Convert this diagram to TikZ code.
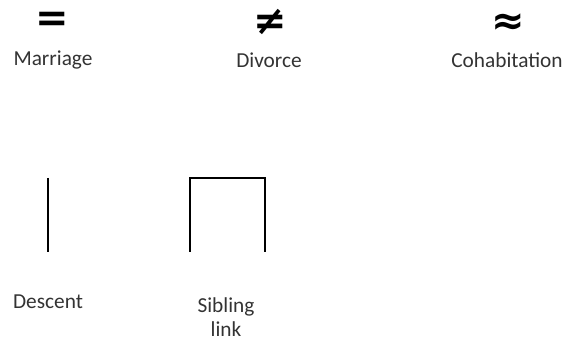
\documentclass[tikz,border=0pt]{standalone}
\usepackage{fontspec}
\setmainfont{Carlito}
\newfontfamily\symfont{DejaVu Sans}
\usepackage{tikz}
\usetikzlibrary{positioning}
\definecolor{inkgray}{HTML}{333333}

\begin{document}
\begin{tikzpicture}[x=0.75pt, y=-0.75pt,
    label/.style={font=\fontsize{16}{18}\selectfont, text=inkgray, inner sep=0pt, align=center},
    relsym/.style={font=\symfont\bfseries\fontsize{30}{30}\selectfont, inner sep=0pt},
    kinline/.style={line width=2pt, black}]
  \useasboundingbox (0,0) rectangle (565,342);
  % partnership symbols
  \node[relsym] (marsym) at (52,22) {=};
  \node[relsym] (divsym) at (270,22) {≠};
  \node[relsym] (cohsym) at (508,24) {≈};
  \node[label] (marriage) at (53,60) {Marriage};
  \node[label] (divorce) at (269,60) {Divorce};
  \node[label] (cohab) at (507,60) {Cohabitation};
  % descent and sibling lines
  \coordinate (desctop) at (48,178);
  \coordinate (descbot) at (48,252);
  \draw[kinline] (desctop) -- (descbot);
  \coordinate (sibleft) at (190,252);
  \coordinate (sibright) at (265,252);
  \draw[kinline] (sibleft) |- (227,178) -| (sibright);
  \node[label] (descent) at (48,302) {Descent};
  \node[label] (sibling) at (226,317) {Sibling\\link};
\end{tikzpicture}
\end{document}
